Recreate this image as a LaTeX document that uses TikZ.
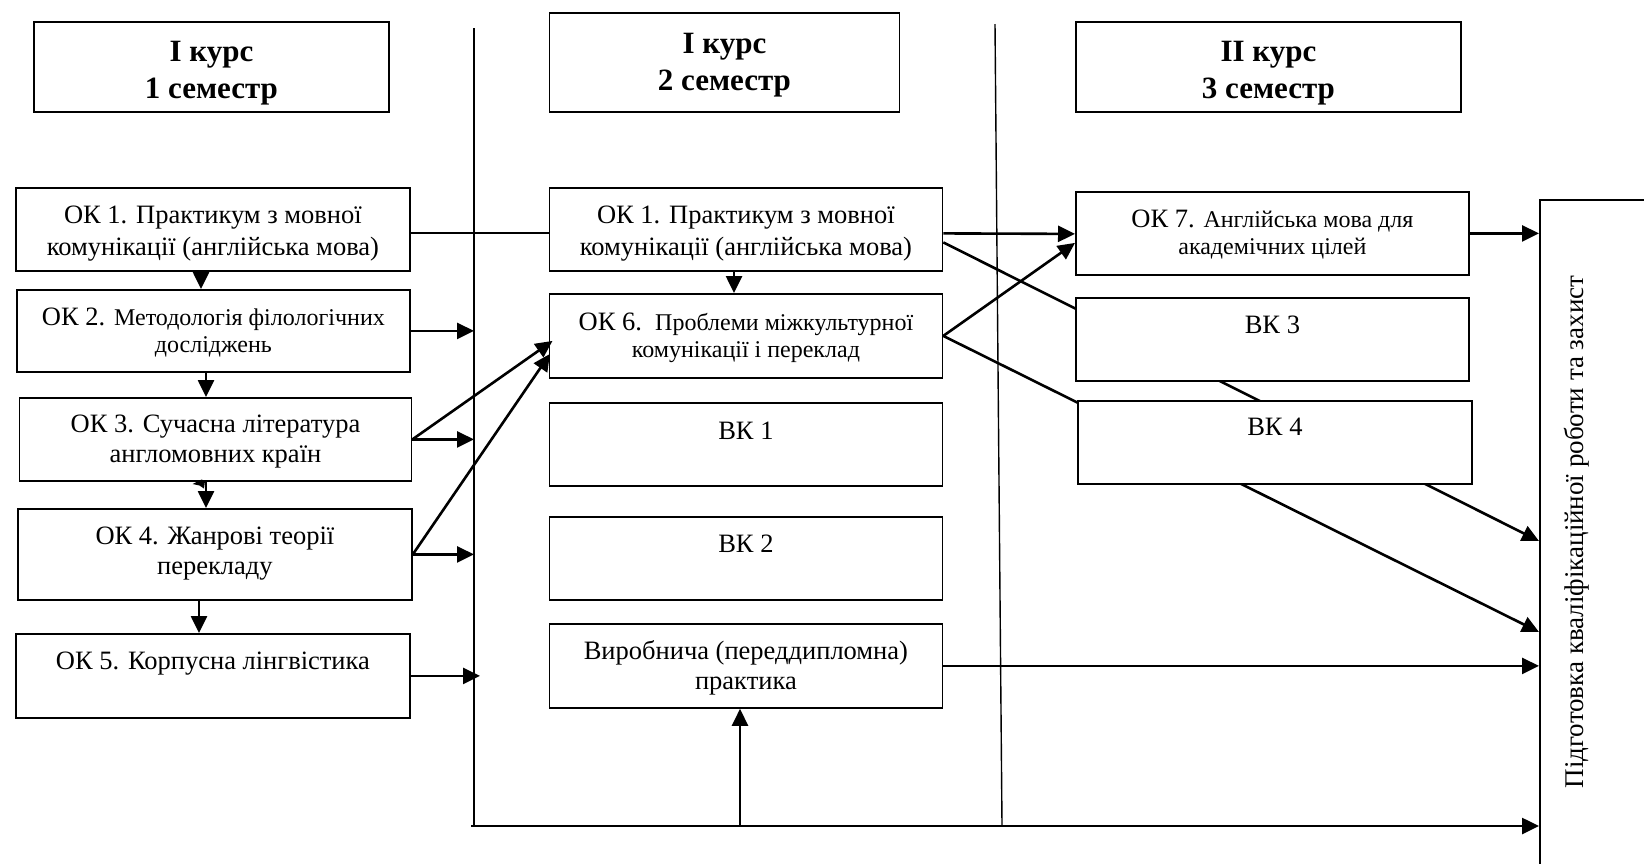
\documentclass[tikz,border=0pt]{standalone}
\usepackage{fontspec}
\setmainfont{Liberation Serif}
\usetikzlibrary{arrows.meta,calc}
\pgfdeclarelayer{bg}
\pgfsetlayers{bg,main}
\newcommand{\smtxt}{\fontsize{24}{27}\selectfont}
\newcommand{\toprule}{\rule{0pt}{25pt}}
\begin{document}
\begin{tikzpicture}[x=1pt,y=-1pt,
  box/.style={draw, line width=1.8pt, fill=white, anchor=north west, inner sep=0pt},
  tx/.style={anchor=north, inner sep=0pt, align=center, font=\fontsize{26.5}{30}\selectfont},
  txa/.style={tx, font=\fontsize{26.5}{32}\selectfont},
  txs/.style={tx, font=\fontsize{26.5}{27}\selectfont},
  hx/.style={tx, font=\fontsize{31}{37}\selectfont\bfseries},
  arr/.style={line width=2.6pt, -{Triangle[length=17pt,width=16pt]}},
  conn/.style={line width=1.9pt},
  sepline/.style={line width=1.9pt},
  septhin/.style={line width=1.4pt}]
\useasboundingbox (0,0) rectangle (1644,863);
\clip (0,0) rectangle (1644,863);

% headers
\node[box, minimum width=355, minimum height=90] (h1) at (33,21) {};
\node[box, minimum width=350, minimum height=99] (h2) at (548.5,12) {};
\node[box, minimum width=385, minimum height=90] (h3) at (1075,21) {};
\node[hx] (h1t) at ($(h1.north)+(0,15)$) {\toprule І курс\\1 семестр};
\node[hx] (h2t) at ($(h2.north)+(0,16)$) {\toprule І курс\\2 семестр};
\node[hx] (h3t) at ($(h3.north)+(0,15)$) {\toprule ІІ курс\\3 семестр};

% column 1
\node[box, minimum width=394, minimum height=83] (ok1) at (15,187) {};
\node[box, minimum width=393, minimum height=82] (ok2) at (16,289) {};
\node[box, minimum width=392, minimum height=83] (ok3) at (18.6,397) {};
\node[box, minimum width=394, minimum height=91] (ok4) at (17,508) {};
\node[box, minimum width=394, minimum height=84] (ok5) at (15,633) {};
\node[txa] (ok1t) at ($(ok1.north)+(0,11)$) {\toprule ОК 1. Практикум з мовної\\комунікації (англійська мова)};
\node[txs] (ok2t) at ($(ok2.north)+(0,11)$) {\toprule ОК 2. {\smtxt Методологія філологічних}\\{\smtxt досліджень}};
\node[tx] (ok3t) at ($(ok3.north)+(0,10)$) {\toprule ОК 3. Сучасна література\\англомовних країн};
\node[tx] (ok4t) at ($(ok4.north)+(0,11)$) {\toprule ОК 4. Жанрові теорії\\перекладу};
\node[tx] (ok5t) at ($(ok5.north)+(0,11)$) {\toprule ОК 5. Корпусна лінгвістика};

% column 2
\node[box, minimum width=393, minimum height=83] (okb) at (548.5,187) {};
\node[box, minimum width=393, minimum height=84] (ok6) at (548.5,293) {};
\node[box, minimum width=393, minimum height=83] (vk1) at (548.5,402) {};
\node[box, minimum width=393, minimum height=83] (vk2) at (548.5,516) {};
\node[box, minimum width=393, minimum height=84] (vyr) at (548.5,623) {};
\node[txa] (okbt) at ($(okb.north)+(0,11)$) {\toprule ОК 1. Практикум з мовної\\комунікації (англійська мова)};
\node[txs] (ok6t) at ($(ok6.north)+(0,12)$) {\toprule ОК 6.~~{\smtxt Проблеми міжкультурної}\\{\smtxt комунікації і переклад}};
\node[tx] (vk1t) at ($(vk1.north)+(0,12)$) {\toprule ВК 1};
\node[tx] (vk2t) at ($(vk2.north)+(0,11)$) {\toprule ВК 2};
\node[tx] (vyrt) at ($(vyr.north)+(0,11)$) {\toprule Виробнича (переддипломна)\\практика};

% column 3
\node[box, minimum width=393, minimum height=83] (ok7) at (1075,191) {};
\node[box, minimum width=393, minimum height=83] (vk3) at (1075,297) {};
\node[box, minimum width=394, minimum height=83] (vk4) at (1077,400) {};
\node[txs] (ok7t) at ($(ok7.north)+(0,11)$) {\toprule ОК 7. {\smtxt Англійська мова для}\\{\smtxt академічних цілей}};
\node[tx] (vk3t) at ($(vk3.north)+(0,11)$) {\toprule ВК 3};
\node[tx] (vk4t) at ($(vk4.north)+(0,10)$) {\toprule ВК 4};

% final box (extends beyond the page)
\node[draw, line width=1.8pt, anchor=north west, minimum width=300, minimum height=800] (fin) at (1539,199) {};
\node[rotate=90, font=\fontsize{27}{33}\selectfont] (fint) at (1577,532) {Підготовка кваліфікаційної роботи та захист};

% separators
\coordinate (v1t) at (474,28);
\coordinate (v1b) at (474,826);
\coordinate (v2t) at (995,24);
\coordinate (v2b) at (1002,825);
\draw[sepline] (v1t) -- (v1b);
\draw[septhin] (v2t) -- (v2b);

% lines passing behind VK3 / VK4
\begin{pgfonlayer}{bg}
\draw[arr] ($(okb.east)+(0,13)$) -- ($(fin.north west)+(0,342)$);
\draw[arr] (ok6.east) -- ($(fin.north west)+(0,433)$);
\end{pgfonlayer}

% column 1 vertical arrows
\draw[arr] (ok1.south -| 201,0) -- (ok2.north -| 201,0);
\draw[arr] (ok2.south -| 206,0) -- (ok3.north -| 206,0);
\draw[arr] (ok3.south -| 206,0) -- (ok4.north -| 206,0);
\draw[arr] (ok4.south -| 199,0) -- (ok5.north -| 199,0);
% small stray arrowhead mark under OK 3
\fill (192.5,484) -- (201.5,479.5) -- (205,481) -- (204,488.5) -- (199.5,485.5) -- cycle;

% column 1 to separator
\draw[arr] (ok2.east) -- (ok2.east -| v1t);
\draw[arr] (ok3.east) -- (ok3.east -| v1t);
\draw[arr] (ok4.east) -- (ok4.east -| v1t);
\draw[arr] (ok5.east) -- ($(ok5.east -| v1t)+(6,0)$);

% column 1 to column 2
\draw[conn] ($(ok1.east)+(0,4)$) -- ($(okb.west)+(0,4)$);
\draw[arr] (ok3.east) -- ($(ok6.west)+(4,5)$);
\draw[arr] (ok4.east) -- ($(ok6.west)+(1.5,18)$);

% column 2
\draw[arr] (okb.south -| 734,0) -- (ok6.north -| 734,0);
\draw[arr] ($(okb.east)+(0,4)$) -- ($(ok7.west)+(0,0.5)$);
\draw[arr] (ok6.east) -- ($(ok7.west)+(0,9.5)$);
\draw[arr] (vyr.east) -- (vyr.east -| fin.west);

% column 3
\draw[arr] (ok7.east) -- (ok7.east -| fin.west);

% bottom line
\coordinate (bl) at (471,826);
\coordinate (up) at (740,826);
\draw[arr] (bl) -- (bl -| fin.west);
\draw[arr] (up) -- (up |- vyr.south);
\end{tikzpicture}
\end{document}
